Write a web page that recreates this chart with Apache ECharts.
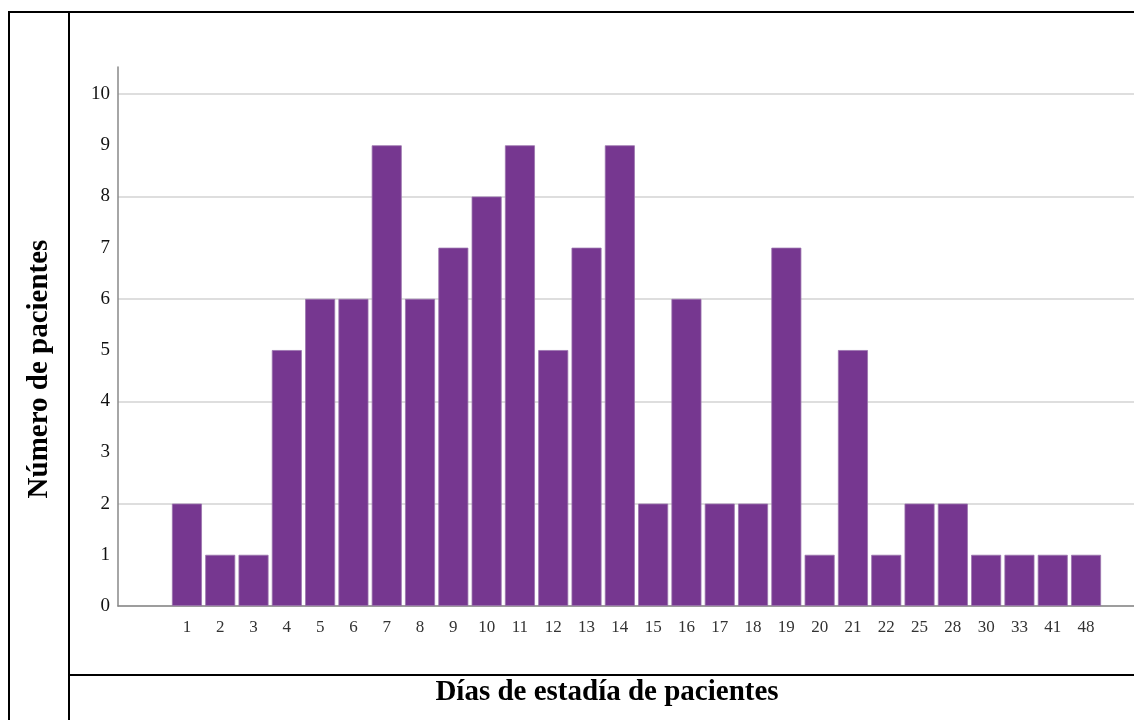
<!DOCTYPE html>
<html><head><meta charset="utf-8">
<script src="https://cdn.jsdelivr.net/npm/echarts@6/dist/echarts.min.js"></script>
<style>html,body{margin:0;padding:0;background:#fff}#c{width:1134px;height:720px}</style>
</head><body><div id="c"></div>
<script>
const categories = ['1','2','3','4','5','6','7','8','9','10','11','12','13','14','15','16','17','18','19','20','21','22','25','28','30','33','41','48'];
const patients = [2,1,1,5,6,6,9,6,7,8,9,5,7,9,2,6,2,2,7,1,5,1,2,2,1,1,1,1];
const yTicks = [0,1,2,3,4,5,6,7,8,9,10];
const yTitle = 'Número de pacientes';
const xTitle = 'Días de estadía de pacientes';

const chart = echarts.init(document.getElementById('c'), null, {renderer:'canvas'});
const idx = categories.map((_, i) => i);
chart.setOption({
  animation: false,
  backgroundColor: '#fff',
  grid: {left: 118, right: 0, top: 67, bottom: 114},
  xAxis: {
    type: 'value', min: -2.07, max: 28.44,
    axisLine: {show: true, onZero: false, lineStyle: {color: '#888', width: 1.5}},
    axisTick: {show: false},
    splitLine: {show: false},
    axisLabel: {
      customValues: idx,
      formatter: v => categories[Math.round(v)],
      color: '#333', fontFamily: 'Liberation Serif', fontSize: 17, margin: 13
    }
  },
  yAxis: {
    type: 'value', min: 0, max: 10.53,
    axisLine: {show: true, onZero: false, lineStyle: {color: '#888', width: 1.5}},
    axisTick: {show: false},
    splitLine: {show: true, showMaxLine: false, lineStyle: {color: '#d3d3d3', width: 1.5}},
    axisLabel: {
      customValues: yTicks,
      color: '#111', fontFamily: 'Liberation Serif', fontSize: 19, margin: 8
    }
  },
  series: [{
    type: 'bar',
    data: patients.map((v, i) => [i, v]),
    barWidth: 30,
    itemStyle: {color: '#763790', borderColor: '#9a74ad', borderWidth: 0.8}
  }],
  graphic: [
    {type: 'line', shape: {x1: 8, y1: 12, x2: 1134, y2: 12}, style: {stroke: '#000', lineWidth: 2}},
    {type: 'line', shape: {x1: 9, y1: 12, x2: 9, y2: 720}, style: {stroke: '#000', lineWidth: 2}},
    {type: 'line', shape: {x1: 69, y1: 12, x2: 69, y2: 720}, style: {stroke: '#000', lineWidth: 2}},
    {type: 'line', shape: {x1: 69, y1: 675, x2: 1134, y2: 675}, style: {stroke: '#000', lineWidth: 2}},
    {type: 'text', x: 40, y: 369, rotation: Math.PI / 2,
      style: {text: yTitle, fill: '#000', font: 'bold 29px "Liberation Serif"', align: 'center', verticalAlign: 'middle'}},
    {type: 'text', x: 607, y: 693,
      style: {text: xTitle, fill: '#000', font: 'bold 29px "Liberation Serif"', align: 'center', verticalAlign: 'middle'}}
  ]
});
</script></body></html>
